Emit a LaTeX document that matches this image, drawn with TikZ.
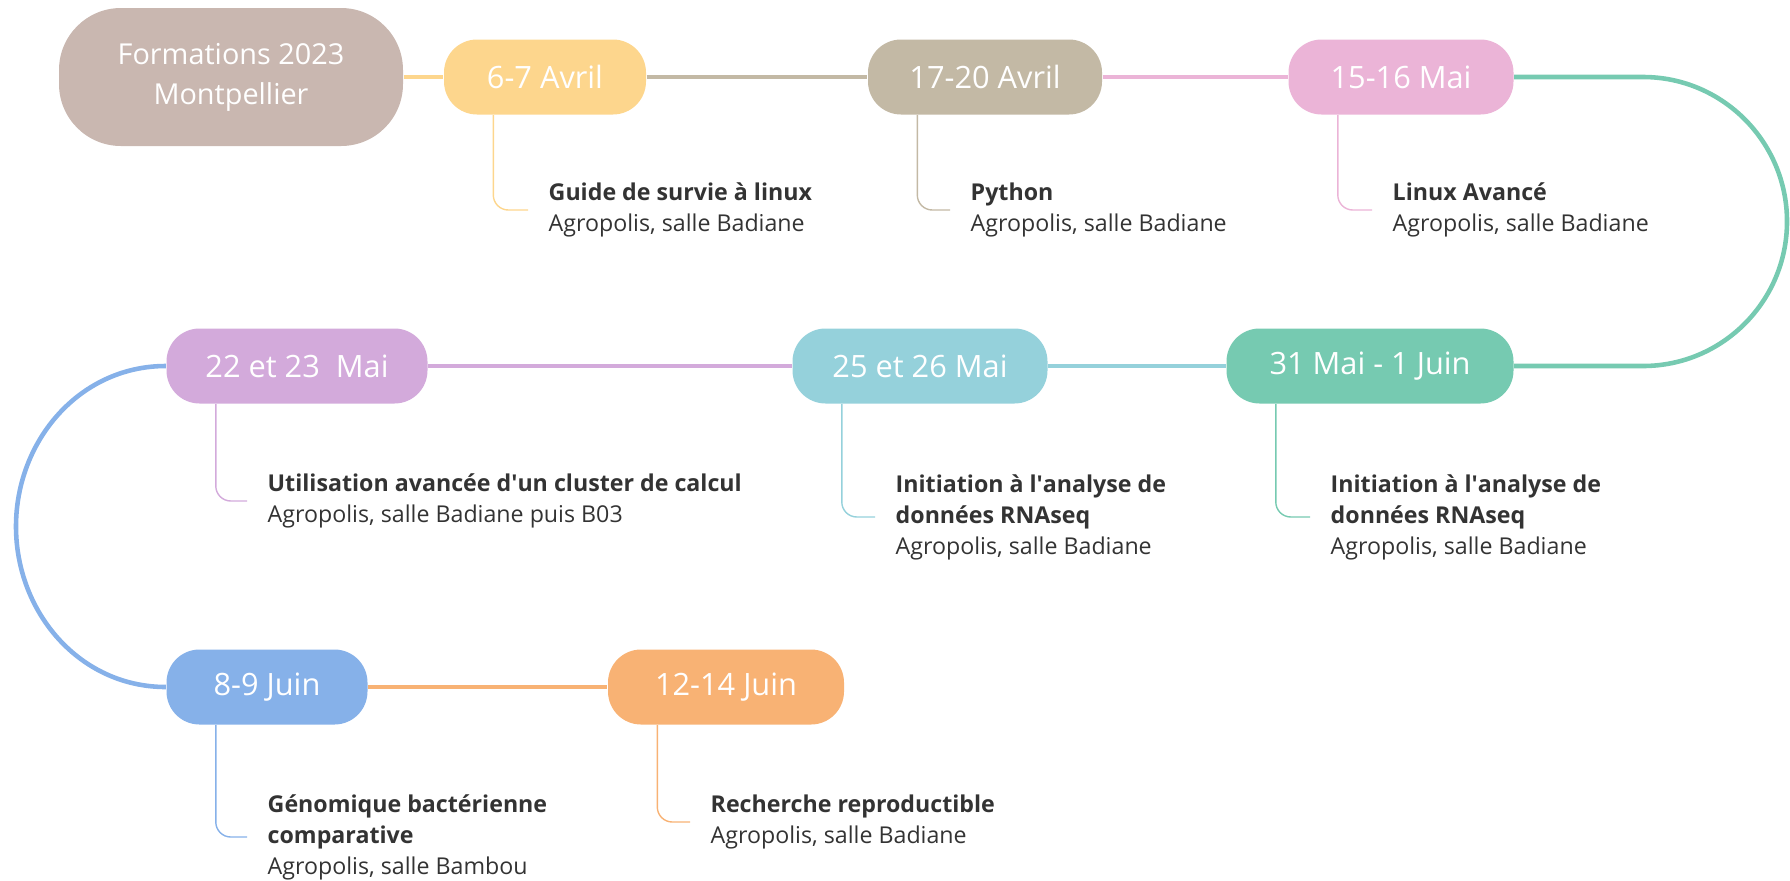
\documentclass[tikz,border=0pt]{standalone}
\usepackage{fontspec}
\setmainfont{Open Sans}

\definecolor{titlec}{HTML}{C9B7B0}
\definecolor{yellowc}{HTML}{FDD68D}
\definecolor{taupec}{HTML}{C3B9A5}
\definecolor{pinkc}{HTML}{EBB4D7}
\definecolor{greenc}{HTML}{76CAB1}
\definecolor{cyanc}{HTML}{95D1DB}
\definecolor{purplec}{HTML}{D3AADB}
\definecolor{bluec}{HTML}{86B1E9}
\definecolor{orangec}{HTML}{F8B274}
\definecolor{textc}{HTML}{333333}

\tikzset{
  titlebox/.style={fill=titlec, text=white, rounded corners=0.62cm,
    minimum width=3.44cm, minimum height=1.38cm, align=center,
    font=\fontsize{8.2}{11.4}\selectfont},
  datebox/.style={fill=#1, text=white, rounded corners=0.33cm,
    minimum height=0.75cm, inner xsep=0.1cm,
    font=\fontsize{8.75}{10}\selectfont},
  desc/.style={anchor=west, align=left, inner xsep=0.2cm, inner ysep=0pt,
    text=textc, font=\fontsize{6.6}{8.8}\selectfont},
  link/.style={draw=#1, line width=1.3pt},
  callout/.style={draw=#1, line width=0.4pt, rounded corners=0.15cm},
}

\begin{document}
\begin{tikzpicture}
  \useasboundingbox (0,0) rectangle (17.9,-8.8);

  % Row 1: April and mid-May
  \node[titlebox] (title) at (2.31,-0.77) {Formations 2023\\Montpellier};
  \node[datebox=yellowc, minimum width=2.02cm] (avril6) at (5.45,-0.77) {6-7 Avril};
  \node[datebox=taupec, minimum width=2.34cm] (avril17) at (9.85,-0.77) {17-20 Avril};
  \node[datebox=pinkc, minimum width=2.25cm] (mai15) at (14.01,-0.77) {15-16 Mai};

  % Row 2: end of May
  \node[datebox=purplec, minimum width=2.61cm] (mai22) at (2.97,-3.66) {22 et 23~ Mai};
  \node[datebox=cyanc, minimum width=2.55cm] (mai25) at (9.20,-3.66) {25 et 26 Mai};
  \node[datebox=greenc, minimum width=2.87cm] (mai31) at (13.70,-3.66) {31 Mai - 1 Juin};

  % Row 3: June
  \node[datebox=bluec, minimum width=2.01cm] (juin8) at (2.67,-6.87) {8-9 Juin};
  \node[datebox=orangec, minimum width=2.36cm] (juin12) at (7.26,-6.87) {12-14 Juin};

  % Course descriptions
  \node[desc] (guide) at (5.28,-2.10) {\textbf{Guide de survie à linux}\\Agropolis, salle Badiane};
  \node[desc] (python) at (9.50,-2.10) {\textbf{Python}\\Agropolis, salle Badiane};
  \node[desc] (linuxav) at (13.72,-2.10) {\textbf{Linux Avancé}\\Agropolis, salle Badiane};
  \node[desc] (cluster) at (2.47,-5.01) {\textbf{Utilisation avancée d\textquotesingle un cluster de calcul}\\Agropolis, salle Badiane puis B03};
  \node[desc] (rnaseqA) at (8.75,-5.17) {\textbf{Initiation à l\textquotesingle analyse de}\\\textbf{données RNAseq}\\Agropolis, salle Badiane};
  \node[desc] (rnaseqB) at (13.10,-5.17) {\textbf{Initiation à l\textquotesingle analyse de}\\\textbf{données RNAseq}\\Agropolis, salle Badiane};
  \node[desc] (genomique) at (2.47,-8.37) {\textbf{Génomique bactérienne}\\\textbf{comparative}\\Agropolis, salle Bambou};
  \node[desc] (repro) at (6.90,-8.22) {\textbf{Recherche reproductible}\\Agropolis, salle Badiane};

  % Turning points
  \coordinate (rtop) at (16.43,-0.77);
  \coordinate (rturn) at (17.87,-2.215);
  \coordinate (rbot) at (16.43,-3.66);
  \coordinate (lturn) at (0.16,-5.265);

  % Timeline links
  \draw[link=yellowc] (title) -- (avril6);
  \draw[link=taupec] (avril6) -- (avril17);
  \draw[link=pinkc] (avril17) -- (mai15);
  \draw[link=greenc] (mai15.east) -- (rtop) to[out=0,in=90] (rturn)
    to[out=-90,in=0] (rbot) -- (mai31.east);
  \draw[link=cyanc] (mai31) -- (mai25);
  \draw[link=purplec] (mai25) -- (mai22);
  \draw[link=bluec] (mai22.west) to[out=180,in=90] (lturn)
    to[out=-90,in=180] (juin8.west);
  \draw[link=orangec] (juin8) -- (juin12);

  % Callouts
  \draw[callout=yellowc] ([xshift=0.5cm]avril6.south west) |- (guide.west);
  \draw[callout=taupec] ([xshift=0.5cm]avril17.south west) |- (python.west);
  \draw[callout=pinkc] ([xshift=0.5cm]mai15.south west) |- (linuxav.west);
  \draw[callout=purplec] ([xshift=0.5cm]mai22.south west) |- (cluster.west);
  \draw[callout=cyanc] ([xshift=0.5cm]mai25.south west) |- (rnaseqA.west);
  \draw[callout=greenc] ([xshift=0.5cm]mai31.south west) |- (rnaseqB.west);
  \draw[callout=bluec] ([xshift=0.5cm]juin8.south west) |- (genomique.west);
  \draw[callout=orangec] ([xshift=0.5cm]juin12.south west) |- (repro.west);

\end{tikzpicture}
\end{document}
